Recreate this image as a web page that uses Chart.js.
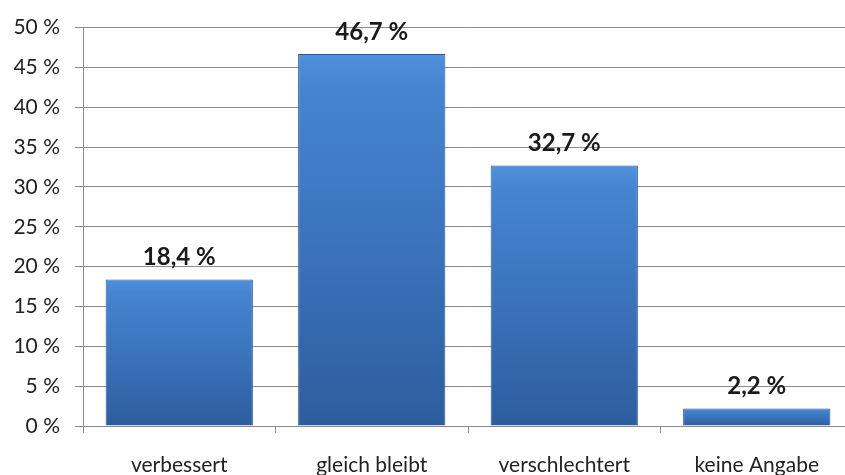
<!DOCTYPE html>
<html lang="de">
<head>
    <meta charset="UTF-8">
    <title>Einschätzung</title>
    <script src="https://cdn.jsdelivr.net/npm/chart.js"></script>
    <style>
        html, body { margin: 0; padding: 0; background: #fff; overflow: hidden; }
        #wrap { width: 853px; height: 475px; }
    </style>
</head>
<body>
    <div id="wrap"><canvas id="barChart" width="853" height="475"></canvas></div>
    <script>
        const categories = ['verbessert', 'gleich bleibt', 'verschlechtert', 'keine Angabe'];
        const shares = [18.4, 46.7, 32.7, 2.2];
        const yTicks = [0, 5, 10, 15, 20, 25, 30, 35, 40, 45, 50];

        const fontFamily = 'Lato, "Open Sans", sans-serif';

        // german decimal comma
        function pct(v) {
            return String(v).replace('.', ',') + ' %';
        }

        // each bar gets its own top->bottom gradient
        function barGradient(context) {
            const chart = context.chart;
            if (!chart.chartArea) return '#3b72ba';
            const y = chart.scales.y;
            const top = y.getPixelForValue(context.raw);
            const bottom = y.getPixelForValue(0);
            const g = chart.ctx.createLinearGradient(0, top, 0, bottom);
            g.addColorStop(0, '#4f91de');
            g.addColorStop(0.08, '#4685d1');
            g.addColorStop(0.5, '#3b73bc');
            g.addColorStop(1, '#2d5d9e');
            return g;
        }

        const valueLabels = {
            id: 'valueLabels',
            afterDatasetsDraw(chart) {
                const ctx = chart.ctx;
                const meta = chart.getDatasetMeta(0);
                ctx.save();
                ctx.font = 'bold 24px ' + fontFamily;
                ctx.fillStyle = '#1a1a1a';
                ctx.textAlign = 'center';
                ctx.textBaseline = 'alphabetic';
                meta.data.forEach((bar, i) => {
                    ctx.fillText(pct(shares[i]), bar.x, bar.y - 14);
                });
                ctx.restore();
            }
        };

        new Chart(document.getElementById('barChart'), {
            type: 'bar',
            data: {
                labels: categories,
                datasets: [{
                    data: shares,
                    backgroundColor: barGradient,
                    borderColor: '#2b568f',
                    borderWidth: 1,
                    categoryPercentage: 0.765,
                    barPercentage: 1
                }]
            },
            options: {
                responsive: false,
                animation: false,
                layout: { padding: { top: 23, left: 0, right: 0, bottom: 0 } },
                plugins: {
                    legend: { display: false },
                    tooltip: { enabled: false }
                },
                scales: {
                    x: {
                        grid: {
                            drawOnChartArea: false,
                            drawTicks: true,
                            tickLength: 7,
                            color: '#8c8c8c'
                        },
                        border: { color: '#8c8c8c' },
                        ticks: {
                            color: '#222',
                            padding: 20,
                            font: { family: fontFamily, size: 21 }
                        },
                        afterFit(scale) { scale.height = 49; }
                    },
                    y: {
                        min: 0,
                        max: 50,
                        afterBuildTicks(scale) {
                            scale.ticks = yTicks.map(v => ({ value: v }));
                        },
                        grid: {
                            color: '#8c8c8c',
                            tickLength: 8
                        },
                        border: { color: '#8c8c8c' },
                        ticks: {
                            color: '#222',
                            padding: 15,
                            font: { family: fontFamily, size: 21 },
                            callback: v => v + ' %'
                        },
                        afterFit(scale) { scale.width = 83; }
                    }
                }
            },
            plugins: [valueLabels]
        });
    </script>
</body>
</html>
